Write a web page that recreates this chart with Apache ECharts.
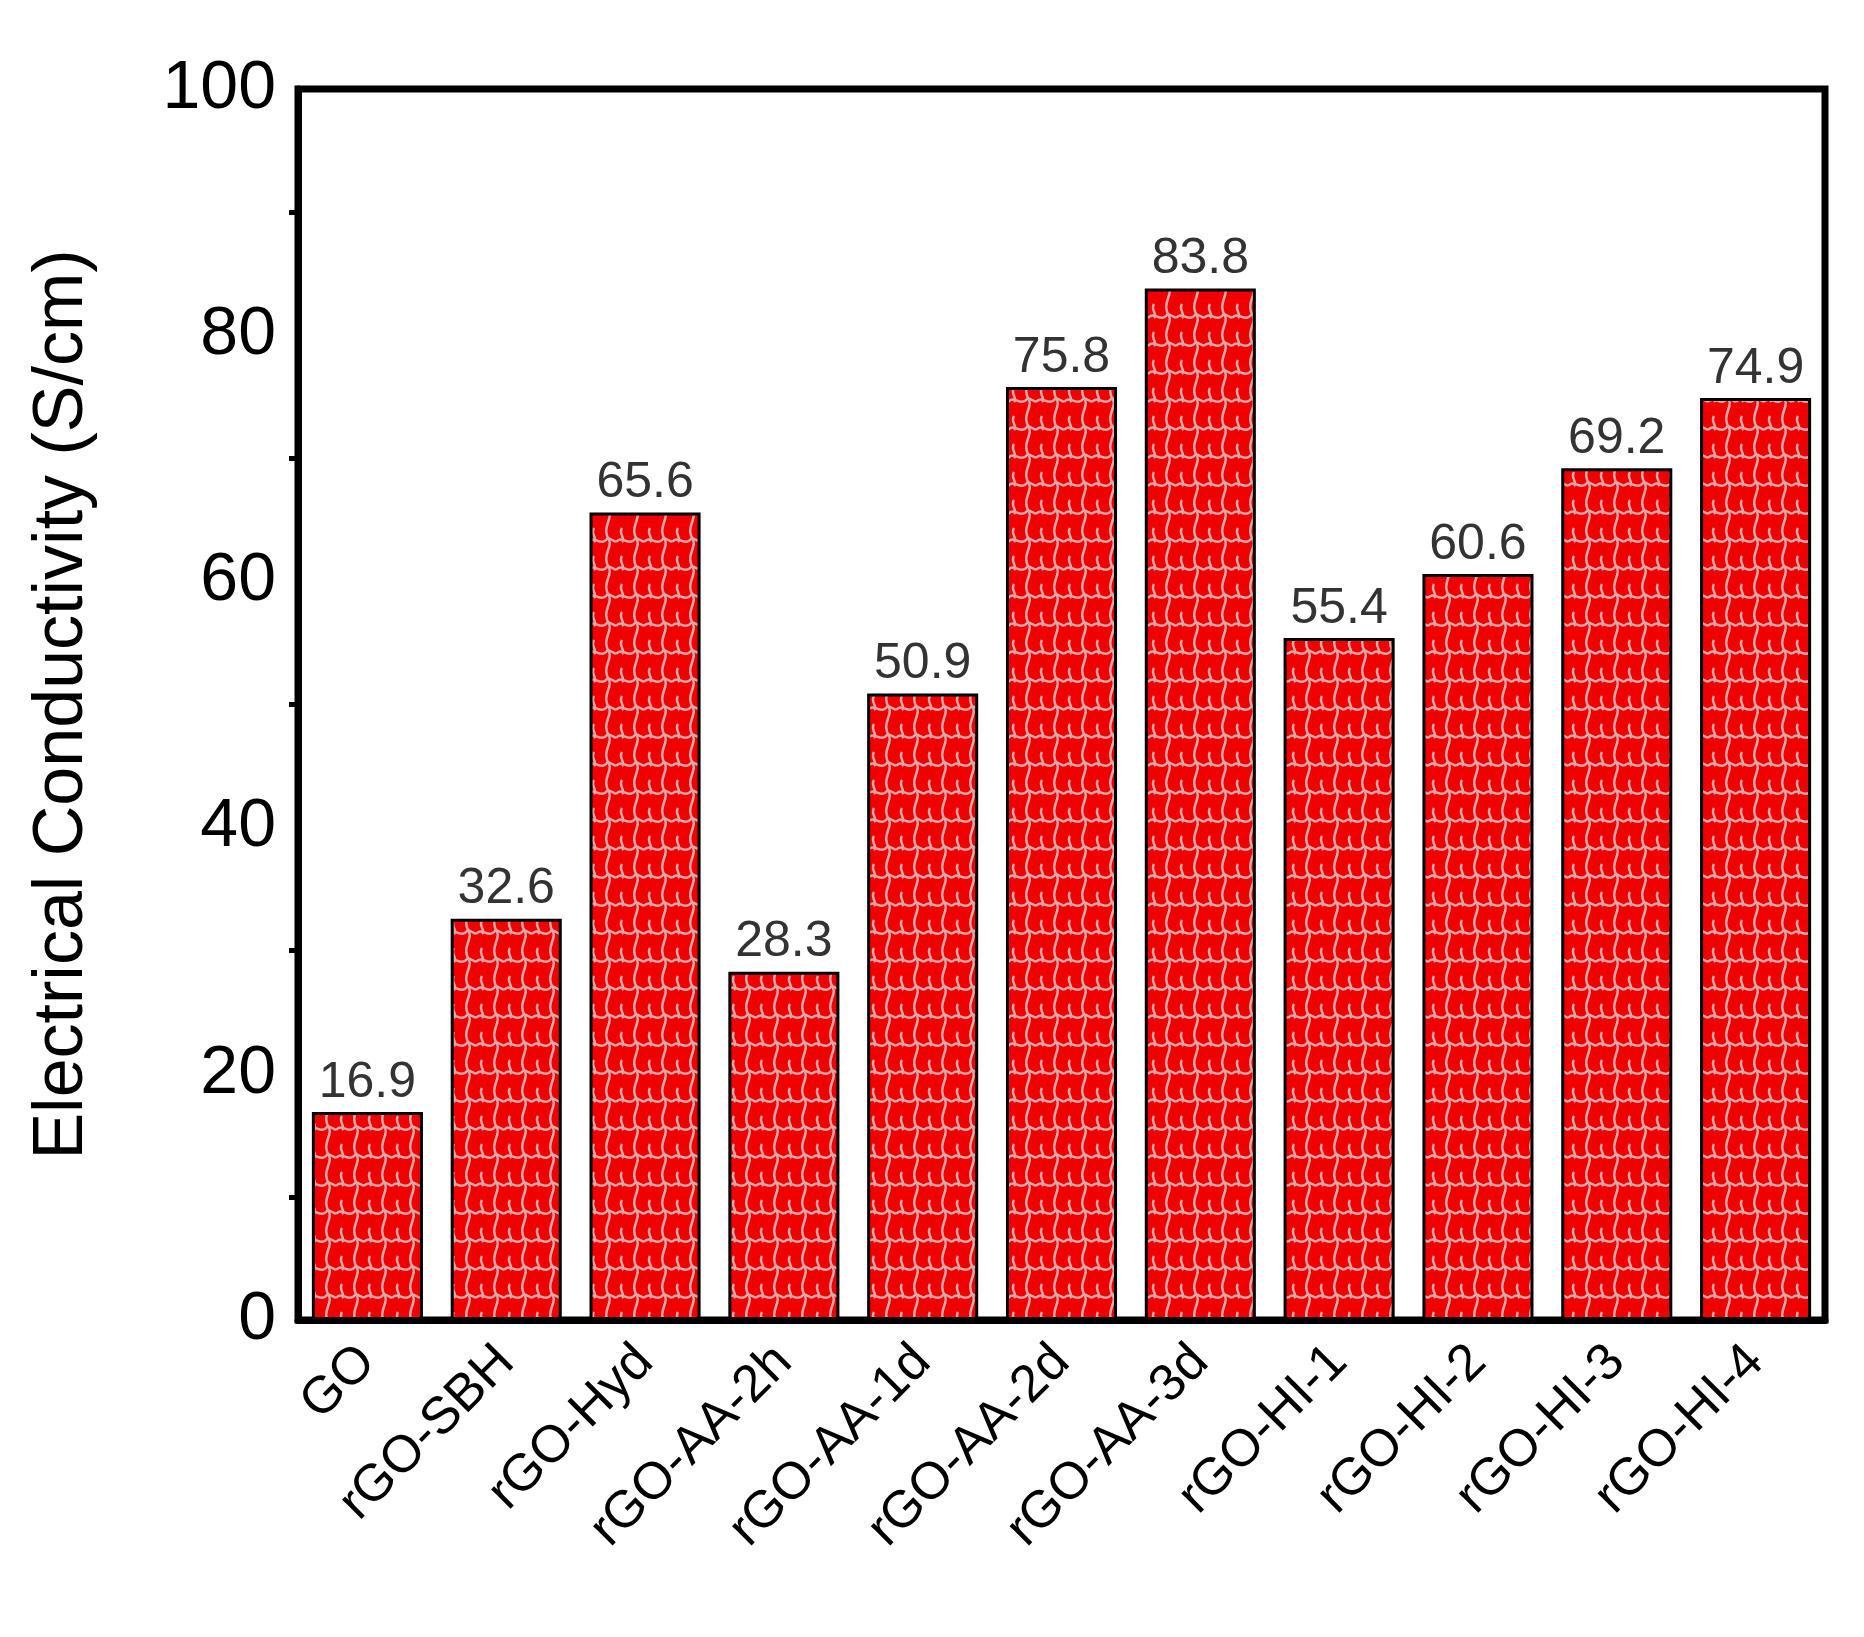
<!DOCTYPE html>
<html>
<head>
<meta charset="utf-8">
<script src="https://cdn.jsdelivr.net/npm/echarts@6/dist/echarts.min.js"></script>
<style>html,body{margin:0;background:#fff}#chart{width:1864px;height:1637px}</style>
</head>
<body>
<div id="chart"></div>
<script>
const categories = ["GO", "rGO-SBH", "rGO-Hyd", "rGO-AA-2h", "rGO-AA-1d", "rGO-AA-2d", "rGO-AA-3d", "rGO-HI-1", "rGO-HI-2", "rGO-HI-3", "rGO-HI-4"];
const conductivity = [16.9, 32.6, 65.6, 28.3, 50.9, 75.8, 83.8, 55.4, 60.6, 69.2, 74.9];

// wavy hatch pattern like the original fill
function makePattern() {
  const c = document.createElement("canvas");
  c.width = 28; c.height = 28;
  const ctx = c.getContext("2d");
  ctx.fillStyle = "#f00000";
  ctx.fillRect(0, 0, 28, 28);
  ctx.strokeStyle = "#d9a8a8";
  ctx.lineWidth = 2.5;
  for (let k = -1; k <= 1; k++) {
    const o = k * 28;
    ctx.beginPath();
    ctx.moveTo(0, 10 + o);
    ctx.bezierCurveTo(7, 2 + o, 12, 16 + o, 20, 6 + o);
    ctx.lineTo(28, 10 + o);
    ctx.stroke();
    ctx.beginPath();
    ctx.moveTo(20, 6 + o);
    ctx.bezierCurveTo(26, 14 + o, 14, 22 + o, 20, 34 + o);
    ctx.stroke();
    ctx.beginPath();
    ctx.moveTo(6, 24 + o);
    ctx.bezierCurveTo(2, 30 + o, 10, 34 + o, 6, 38 + o);
    ctx.stroke();
  }
  return c;
}

const chart = echarts.init(document.getElementById("chart"));
chart.setOption({
  animation: false,
  grid: { left: 298, right: 39, top: 89, bottom: 317, show: true, borderColor: "#000", borderWidth: 7 },
  xAxis: {
    type: "category",
    data: categories,
    axisLine: { lineStyle: { color: "#000", width: 7 } },
    axisTick: { alignWithLabel: true, length: 16, lineStyle: { width: 7 } },
    axisLabel: { rotate: 45, color: "#000", fontSize: 52, fontFamily: "Liberation Sans", margin: 34 }
  },
  yAxis: {
    type: "value",
    min: 0, max: 100, interval: 20,
    name: "Electrical Conductivity (S/cm)",
    nameLocation: "middle",
    nameGap: 200,
    nameTextStyle: { fontSize: 70, fontFamily: "Liberation Sans", color: "#000" },
    splitLine: { show: false },
    axisLine: { show: true, lineStyle: { color: "#000", width: 7 } },
    axisTick: { length: 16, lineStyle: { width: 7 } },
    minorTick: { show: true, splitNumber: 2, length: 9, lineStyle: { color: "#000", width: 5 } },
    axisLabel: { color: "#000", fontSize: 68, fontFamily: "Liberation Sans", margin: 22 }
  },
  series: [{
    type: "bar",
    data: conductivity,
    barCategoryGap: "20%",
    itemStyle: { color: { image: makePattern(), repeat: "repeat" }, borderColor: "#000", borderWidth: 3 },
    label: { show: true, position: "top", fontSize: 50, fontFamily: "Liberation Sans", color: "#333", distance: 4 }
  }]
});
</script>
</body>
</html>
